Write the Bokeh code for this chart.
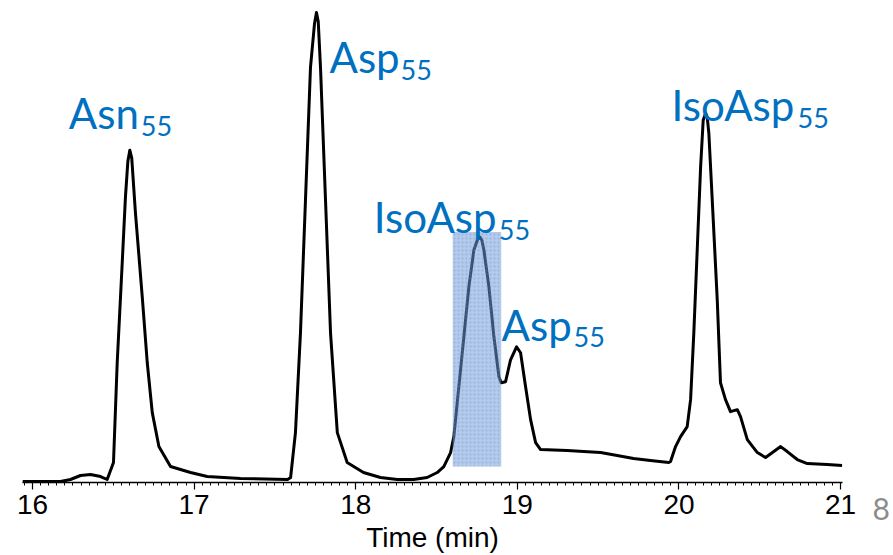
import numpy as np
from bokeh.plotting import figure
from bokeh.layouts import row
from bokeh.models import Range1d, SingleIntervalTicker, Label, ColumnDataSource
from bokeh.embed import file_html
from bokeh.resources import INLINE

# ---- data ----
time_min = [15.938, 16.050, 16.173, 16.235, 16.297, 16.359, 16.421, 16.462, 16.501, 16.524,
            16.555, 16.575, 16.590, 16.602, 16.614, 16.637, 16.679, 16.710, 16.741, 16.782,
            16.854, 16.978, 17.081, 17.287, 17.578, 17.597, 17.627, 17.658, 17.689, 17.720,
            17.745, 17.757, 17.768, 17.782, 17.813, 17.844, 17.886, 17.947, 18.048, 18.153,
            18.257, 18.358, 18.442, 18.504, 18.545, 18.587, 18.607, 18.638, 18.669, 18.700,
            18.731, 18.755, 18.768, 18.780, 18.793, 18.824, 18.855, 18.886, 18.900, 18.927,
            18.958, 18.995, 19.020, 19.051, 19.082, 19.113, 19.144, 19.309, 19.410, 19.515,
            19.618, 19.719, 19.824, 19.937, 19.948, 19.979, 20.010, 20.051, 20.072, 20.092,
            20.113, 20.134, 20.150, 20.165, 20.175, 20.185, 20.206, 20.237, 20.257, 20.288,
            20.319, 20.361, 20.381, 20.423, 20.485, 20.536, 20.587, 20.629, 20.670, 20.732,
            20.794, 20.918, 21.010]
signal = [1, 1, 1, 3, 7, 8, 6, 3, 20, 120,
          220, 286, 322, 333, 325, 270, 186, 120, 70, 36,
          16, 10, 6, 4, 3, 5, 50, 150, 283, 416,
          460, 471, 462, 416, 283, 150, 50, 20, 10, 5,
          3, 3, 5, 10, 16, 30, 46, 96, 146, 196,
          233, 244, 246, 243, 233, 196, 146, 106, 100, 101,
          123, 136, 130, 96, 63, 40, 33, 32, 31, 30,
          27, 24, 22, 20, 21, 36, 46, 56, 83, 150,
          233, 316, 363, 370, 366, 350, 283, 183, 100, 83,
          71, 73, 66, 43, 30, 25, 31, 36, 31, 23,
          19, 18, 17]

x_ticks = [16, 17, 18, 19, 20, 21]
peak_names = ["Asn", "Asp", "IsoAsp", "Asp", "IsoAsp"]
peak_sub = ["55", "55", "55", "55", "55"]
peak_rt = [16.602, 17.757, 18.768, 18.995, 20.165]
highlight_window = [18.6, 18.9]
highlight_level = [16, 251]
page_number = "8"

# ---- layout ----
W, H = 862, 555
left, right, top, bottom = 22, 20, 0, 72
x0, x1 = 15.938, 21.012
y0, y1 = 0, 483
px_per_min = (W - left - right) / (x1 - x0)
px_per_unit = (H - top - bottom) / (y1 - y0)

p = figure(width=W, height=H, output_backend="svg", toolbar_location=None,
           x_range=Range1d(x0, x1), y_range=Range1d(y0, y1),
           y_axis_location=None, min_border_left=left, min_border_right=right,
           min_border_top=top, min_border_bottom=bottom)
p.outline_line_color = None
p.grid.visible = False
p.background_fill_color = "white"
p.border_fill_color = "white"

src = ColumnDataSource(dict(t=time_min, s=signal))
p.line("t", "s", source=src, line_color="black", line_width=3, line_join="round")

# shaded integration window
p.quad(left=[highlight_window[0]], right=[highlight_window[1]],
       bottom=[highlight_level[0]], top=[highlight_level[1]],
       fill_color="#6f9ad8", fill_alpha=0.52, line_color=None,
       hatch_pattern="dot", hatch_color="#5b86cc", hatch_alpha=0.35, hatch_scale=4)

ax = p.xaxis[0]
ax.ticker = SingleIntervalTicker(interval=1, num_minor_ticks=20)
ax.axis_line_color = "black"
ax.axis_line_width = 1.5
ax.major_tick_in = 0
ax.major_tick_out = 7
ax.minor_tick_in = 0
ax.minor_tick_out = 3
ax.major_tick_line_width = 1.2
ax.minor_tick_line_width = 1
ax.major_label_text_font = "Liberation Sans Narrow, Liberation Sans"
ax.major_label_text_font_size = "28px"
ax.major_label_text_color = "black"
ax.major_label_standoff = 5
ax.axis_label = "Time (min)"
ax.axis_label_text_font = "Liberation Sans Narrow, Liberation Sans"
ax.axis_label_text_font_size = "28px"
ax.axis_label_text_font_style = "normal"
ax.axis_label_text_color = "black"
ax.axis_label_standoff = 5

# peak labels: offsets in pixels from the apex (main dx, main dy, sub dx, sub dy), dy positive = down
offsets = [(-61, -37, 11, -24),
           (13, 45, 84, 58),
           (-106, -20, 19, -7),
           (-15, -22, 57, -10),
           (-34, -8, 92, 5)]
blue = "#0070C0"
for name, sub, rt, (mdx, mdy, sdx, sdy) in zip(peak_names, peak_sub, peak_rt, offsets):
    h = float(np.interp(rt, time_min, signal))
    p.add_layout(Label(x=rt + mdx / px_per_min, y=h - mdy / px_per_unit, text=name,
                       text_font="Lato", text_font_size="42px", text_color=blue,
                       text_baseline="alphabetic", text_align="left"))
    p.add_layout(Label(x=rt + sdx / px_per_min, y=h - sdy / px_per_unit, text=sub,
                       text_font="Lato", text_font_size="27px", text_color=blue,
                       text_baseline="alphabetic", text_align="left"))

# slide page number in a narrow side panel
QW = 893 - W
q = figure(width=QW, height=H, frame_width=QW, frame_height=H,
           output_backend="svg", toolbar_location=None,
           x_range=Range1d(0, QW), y_range=Range1d(H, 0),
           x_axis_location=None, y_axis_location=None, min_border=0)
q.outline_line_color = None
q.grid.visible = False
q.add_layout(Label(x=10, y=508, text=page_number, text_font="Lato",
                   text_font_size="30px", text_color="#8c8c8c",
                   text_baseline="alphabetic", text_align="left"))

layout = row(p, q, spacing=0)
open("out.html", "w").write(file_html(layout, INLINE))
